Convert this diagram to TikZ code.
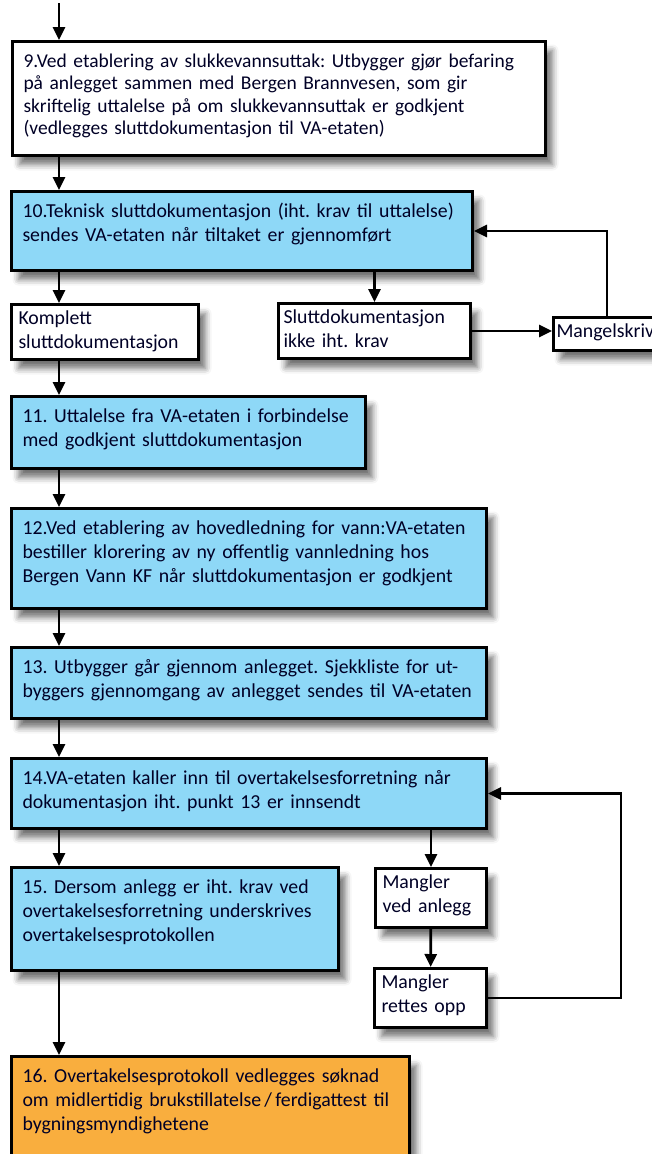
\documentclass[tikz,border=0pt]{standalone}
\usepackage{fontspec}
\setmainfont{Carlito}
\usetikzlibrary{arrows.meta,shadows.blur}
\definecolor{vablue}{RGB}{142,216,247}
\definecolor{vaorange}{RGB}{249,174,62}
\frenchspacing
\begin{document}
\begin{tikzpicture}[x=1pt,y=-1pt,
    flow/.style={line width=2.8pt,-{Triangle[length=13pt,width=12pt]}},
    stepbox/.style={draw,line width=3pt,anchor=north west,align=left,
      inner xsep=11pt,inner ysep=8pt,text height=18pt,text=black!85!blue,
      font=\fontsize{19.8}{24}\selectfont,
      blur shadow={shadow xshift=7pt,shadow yshift=-9pt,shadow blur radius=6pt,shadow opacity=55}},
    notebox/.style={stepbox,fill=white,inner xsep=7pt,inner ysep=4pt,text height=16pt}]
    \useasboundingbox (0,0) rectangle (652,1154);
    \clip (0,0) rectangle (652,1154);

    \node[stepbox,fill=white,text width=511pt,text depth=80pt,font=\fontsize{19.5}{22.3}\selectfont] (s9) at (11,40)
        {9.Ved etablering av slukkevannsuttak: Utbygger gjør befaring\\på anlegget sammen med Bergen Brannvesen, som gir\\skriftelig uttalelse på om slukkevannsuttak er godkjent\\(vedlegges sluttdokumentasjon til VA-etaten)};
    \node[stepbox,fill=vablue,text width=439pt,text depth=45pt] (s10) at (10,190)
        {10.Teknisk sluttdokumentasjon (iht. krav til uttalelse)\\sendes VA-etaten når tiltaket er gjennomført};
    \node[notebox,text width=173pt,text depth=31pt] (kompl) at (10,303) {Komplett\\sluttdokumentasjon};
    \node[notebox,text width=182pt,text depth=31pt,inner xsep=5pt] (ikke) at (277,302) {Sluttdokumentasjon\\ikke iht. krav};
    \node[notebox,text width=101pt,text depth=9pt,inner xsep=3pt] (mangel) at (552,316) {Mangelskriv};
    \node[stepbox,fill=vablue,text width=332pt,text depth=38pt] (s11) at (10,395)
        {11. Uttalelse fra VA-etaten i forbindelse\\med godkjent sluttdokumentasjon};
    \node[stepbox,fill=vablue,text width=453pt,text depth=66pt] (s12) at (10,507)
        {12.Ved etablering av hovedledning for vann:VA-etaten\\bestiller klorering av ny offentlig vannledning hos\\Bergen Vann KF når sluttdokumentasjon er godkjent};
    \node[stepbox,fill=vablue,text width=453pt,text depth=37pt] (s13) at (10,646)
        {13. Utbygger går gjennom anlegget. Sjekkliste for ut-\\byggers gjennomgang av anlegget sendes til VA-etaten};
    \node[stepbox,fill=vablue,text width=453pt,text depth=36pt] (s14) at (10,757)
        {14.VA-etaten kaller inn til overtakelsesforretning når\\dokumentasjon iht. punkt 13 er innsendt};
    \node[stepbox,fill=vablue,text width=305pt,text depth=69pt] (s15) at (10,866)
        {15. Dersom anlegg er iht. krav ved\\overtakelsesforretning underskrives\\overtakelsesprotokollen};
    \node[notebox,text width=97pt,text depth=35pt] (mva) at (374,867) {Mangler\\ved anlegg};
    \node[notebox,text width=98pt,text depth=35pt] (mret) at (373,967) {Mangler\\rettes opp};
    \node[stepbox,fill=vaorange,text width=376pt,text depth=113pt] (s16) at (10,1055)
        {16. Overtakelsesprotokoll vedlegges søknad\\om midlertidig brukstillatelse\,/\,ferdigattest til\\bygningsmyndighetene};

    \coordinate (col) at (59,3);
    \draw[flow] (col) -- (s9.north -| col);
    \draw[flow] (s9.south -| col) -- (s10.north -| col);
    \draw[flow] (s10.south -| col) -- (kompl.north -| col);
    \draw[flow] (s10.south -| ikke) -- (ikke.north);
    \draw[flow] (ikke.east) -- (ikke.east -| mangel.west);
    \draw[flow] (mangel.north) |- (s10.east);
    \draw[flow] (kompl.south -| col) -- (s11.north -| col);
    \draw[flow] (s11.south -| col) -- (s12.north -| col);
    \draw[flow] (s12.south -| col) -- (s13.north -| col);
    \draw[flow] (s13.south -| col) -- (s14.north -| col);
    \draw[flow] (s14.south -| col) -- (s15.north -| col);
    \draw[flow] (s14.south -| mva) -- (mva.north);
    \draw[flow] (mva) -- (mret);
    \draw[flow] (mret.east) -| ([xshift=133pt]s14.east) -- (s14.east);
    \draw[flow] (s15.south -| col) -- (s16.north -| col);
\end{tikzpicture}
\end{document}
